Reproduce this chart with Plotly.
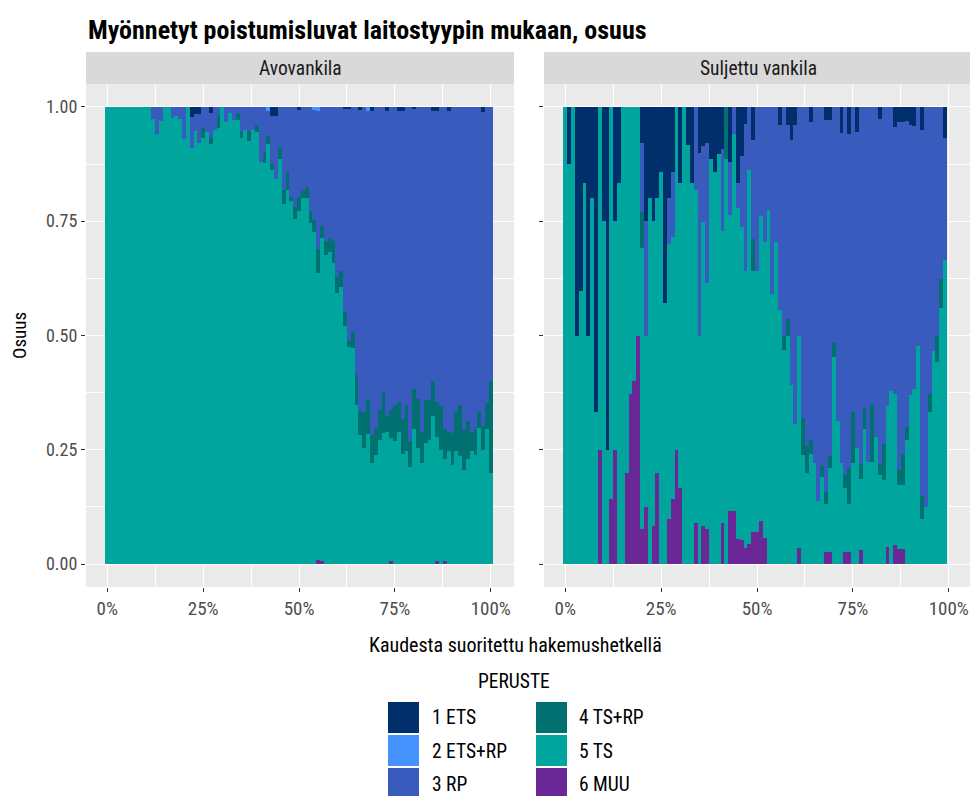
import plotly.graph_objects as go
from plotly.subplots import make_subplots

# kaudesta suoritettu (%), one bar per percent
x_avo = list(range(101))
x_sulj = list(range(100))

# --- Avovankila: shares per category ---
avo_ets = [0, 0, 0, 0, 0, 0, 0, 0, 0, 0,
           0, 0, 0, 0, 0, 0, 0, 0, 0, 0,
           0, 0, .022, .015, .015, 0, 0, .013, 0, 0,
           0, 0, 0, 0, 0, 0, 0, 0, 0, 0,
           0, 0, 0, .02, .02, 0, 0, 0, 0, 0,
           .007, 0, 0, 0, 0, 0, 0, 0, 0, 0,
           0, 0, .005, .005, 0, 0, .007, 0, 0, .01,
           0, 0, 0, .008, 0, 0, .01, .01, 0, 0,
           .005, 0, 0, 0, 0, .01, .01, 0, 0, .008,
           0, 0, 0, 0, 0, 0, 0, 0, .012, 0,
           0]
avo_etsrp = [0, 0, 0, 0, 0, 0, 0, 0, 0, 0,
             0, 0, 0, 0, 0, 0, 0, 0, 0, 0,
             0, 0, 0, 0, 0, 0, 0, 0, 0, 0,
             0, 0, 0, 0, 0, 0, 0, 0, 0, 0,
             0, 0, .009, 0, 0, 0, 0, 0, 0, 0,
             0, 0, 0, 0, .007, .01, 0, 0, 0, 0,
             0, 0, 0, 0, 0, 0, 0, 0, .01, 0,
             0, 0, 0, 0, 0, 0, 0, 0, 0, 0,
             0, 0, 0, 0, 0, 0, 0, 0, 0, 0,
             0, 0, 0, 0, 0, 0, 0, 0, 0, 0,
             0]
avo_rp = [0, 0, 0, 0, 0, 0, 0, 0, 0, 0,
          0, 0, .026, .06, .03, 0, 0, .024, .02, .027,
          .07, 0, .067, .037, .063, .046, .055, .054, .05, .017,
          0, .032, .013, .028, .013, .056, .05, .053, .05, .04,
          .12, .10, .054, .106, .137, .089, .181, .141, .198, .218,
          .19, .183, .175, .227, .24, .30, .26, .293, .286, .293,
          .373, .36, .443, .508, .493, .587, .659, .668, .628, .708,
          .703, .662, .624, .667, .664, .653, .636, .673, .653, .731,
          .613, .638, .712, .642, .642, .59, .636, .655, .705, .704,
          .714, .668, .653, .707, .688, .712, .705, .668, .685, .648,
          .60]
avo_tsrp = [0, 0, 0, 0, 0, 0, 0, 0, 0, 0,
            0, 0, 0, 0, 0, 0, 0, 0, 0, 0,
            0, 0, 0, 0, 0, .021, 0, .015, 0, .03,
            0, 0, 0, 0, .015, .013, 0, .021, 0, .015,
            0, .022, .019, .011, 0, .024, .032, .04, .007, .028,
            .03, .016, .024, .028, .026, .054, .026, .03, .032, .049,
            .035, .035, .032, .013, .035, .066, .052, .079, .078, .061,
            .059, .067, .09, .035, .061, .078, .066, .077, .10, .057,
            .087, .107, .067, .092, .087, .077, .075, .096, .066, .041,
            .07, .085, .111, .088, .083, .041, .057, .035, .054, .057,
            .201]
avo_ts = [1, 1, 1, 1, 1, 1, 1, 1, 1, 1,
          1, 1, .974, .94, .97, 1, 1, .976, .98, .973,
          .93, 1, .911, .948, .922, .933, .945, .918, .95, .953,
          1, .968, .987, .972, .972, .931, .95, .926, .95, .945,
          .88, .878, .918, .863, .843, .887, .787, .819, .795, .754,
          .773, .801, .801, .745, .727, .627, .707, .677, .682, .658,
          .592, .605, .52, .474, .472, .347, .282, .253, .284, .221,
          .238, .271, .286, .29, .269, .269, .288, .24, .247, .212,
          .295, .255, .221, .266, .271, .323, .273, .249, .223, .247,
          .216, .247, .236, .205, .229, .247, .238, .297, .249, .295,
          .199]
avo_muu = [0, 0, 0, 0, 0, 0, 0, 0, 0, 0,
           0, 0, 0, 0, 0, 0, 0, 0, 0, 0,
           0, 0, 0, 0, 0, 0, 0, 0, 0, 0,
           0, 0, 0, 0, 0, 0, 0, 0, 0, 0,
           0, 0, 0, 0, 0, 0, 0, 0, 0, 0,
           0, 0, 0, 0, 0, .009, .007, 0, 0, 0,
           0, 0, 0, 0, 0, 0, 0, 0, 0, 0,
           0, 0, 0, 0, .006, 0, 0, 0, 0, 0,
           0, 0, 0, 0, 0, 0, .006, 0, .006, 0,
           0, 0, 0, 0, 0, 0, 0, 0, 0, 0,
           0]

# --- Suljettu vankila ---
sulj_ets = [0, .125, 0, .502, .402, .167, .502, .20, .667, 0,
            .25, .751, 0, .25, .167, 0, 0, 0, 0, 0,
            .078, .25, .20, .25, .20, .143, .429, .20, .143, 0,
            .167, 0, .084, .167, 0, .10, .085, .078, .114, .143,
            .103, .092, 0, .12, 0, .167, .107, .037, 0, .072,
            0, 0, 0, 0, 0, 0, .039, 0, .039, .072,
            .039, 0, 0, 0, .032, 0, 0, 0, .028, .028,
            0, 0, .057, 0, .059, 0, .055, 0, 0, 0,
            0, 0, .026, 0, 0, 0, .044, .033, .033, .03,
            .039, .041, 0, .05, 0, 0, 0, 0, 0, .068]
sulj_etsrp = [0] * 100
sulj_rp = [0, 0, 0, 0, 0, 0, 0, 0, 0, 0,
           0, 0, 0, 0, 0, 0, 0, 0, 0, 0,
           .153, .252, 0, 0, 0, 0, 0, .10, .142, 0,
           0, 0, 0, 0, .182, .40, .166, .308, 0, 0,
           0, .18, 0, .116, .06, .055, .156, .321, .138, .216,
           .358, .238, .295, .225, .41, .295, .406, .502, .424, .537,
           .655, .502, .681, .742, .697, .779, .862, .786, .815, .736,
           .517, .686, .722, .806, .731, .668, .69, .782, .659, .777,
           .651, .723, .756, .738, .655, .622, .583, .762, .727, .669,
           .592, .577, .524, .802, .876, .627, .533, .502, .376, .266]
sulj_tsrp = [0, 0, 0, 0, 0, 0, 0, 0, 0, 0,
             0, 0, 0, 0, 0, 0, 0, 0, 0, 0,
             .078, 0, 0, 0, 0, 0, 0, 0, 0, 0,
             0, 0, 0, 0, 0, 0, 0, 0, 0, 0,
             0, 0, .114, 0, 0, 0, 0, 0, 0, .07,
             0, 0, 0, 0, 0, 0, 0, .029, .039, 0,
             0, 0, .081, .059, .031, 0, 0, .024, .026, .026,
             .031, 0, 0, .028, .079, .111, 0, .032, .046, 0,
             .126, 0, .024, .079, 0, 0, 0, .033, .068, .03,
             0, 0, 0, .05, 0, .041, 0, .055, .063, 0]
sulj_ts = [1, .875, 1, .498, .598, .833, .498, .80, .333, .751,
           .75, .249, .858, .50, .833, 1, .801, .627, .60, .502,
           .615, .374, .80, .667, .601, .857, .571, .602, .573, .751,
           .667, 1, .916, .833, .728, .50, .666, .538, .886, .857,
           .897, .638, .886, .648, .824, .723, .685, .607, .818, .572,
           .572, .668, .648, .775, .59, .705, .555, .469, .498, .391,
           .306, .463, .238, .199, .24, .221, .138, .19, .105, .184,
           .452, .314, .221, .14, .105, .221, .255, .155, .295, .223,
           .223, .277, .194, .183, .308, .378, .332, .139, .139, .271,
           .369, .382, .476, .098, .124, .332, .467, .443, .561, .666]
sulj_muu = [0, 0, 0, 0, 0, 0, 0, 0, 0, .249,
            0, 0, .142, .25, 0, 0, .199, .373, .40, .498,
            .076, .124, 0, .083, .199, 0, 0, .098, .142, .249,
            .166, 0, 0, 0, .09, 0, .083, .076, 0, 0,
            0, .09, 0, .116, .116, .055, .052, .035, .044, .07,
            .07, .094, .057, 0, 0, 0, 0, 0, 0, 0,
            0, .035, 0, 0, 0, 0, 0, 0, .026, .026,
            0, 0, 0, .026, .026, 0, 0, .031, 0, 0,
            0, 0, 0, 0, .037, 0, .041, .033, .033, 0,
            0, 0, 0, 0, 0, 0, 0, 0, 0, 0]

categories = ["1 ETS", "2 ETS+RP", "3 RP", "4 TS+RP", "5 TS", "6 MUU"]
colors = ["#002F6C", "#4592FF", "#3A5BBE", "#007070", "#00A69E", "#6A2896"]

FONT = "Liberation Sans Narrow, Roboto Condensed, Liberation Sans, sans-serif"

fig = make_subplots(rows=1, cols=2, shared_yaxes=True, horizontal_spacing=0.034)

avo = [avo_ets, avo_etsrp, avo_rp, avo_tsrp, avo_ts, avo_muu]
sulj = [sulj_ets, sulj_etsrp, sulj_rp, sulj_tsrp, sulj_ts, sulj_muu]

# plotly stacks the first trace at the bottom -> add MUU first
for i in reversed(range(6)):
    fig.add_trace(go.Bar(x=x_avo, y=avo[i], name=categories[i], width=1,
                         marker=dict(color=colors[i], line=dict(width=0)),
                         showlegend=False), row=1, col=1)
    fig.add_trace(go.Bar(x=x_sulj, y=sulj[i], name=categories[i], width=1,
                         marker=dict(color=colors[i], line=dict(width=0)),
                         showlegend=False), row=1, col=2)

# page body has an 8px margin, so the figure sits at (8, 8)
OFF = 8
W, H = 978 - OFF, 796 - OFF
L, R, T, B = 86 - OFF, 6, 84 - OFF, 209
pw, ph = W - L - R, H - T - B


def px(xp):
    # window pixel -> paper x
    return (xp - OFF - L) / pw


def py(yp):
    # window pixel -> paper y
    return (H - B - (yp - OFF)) / ph


fig.update_layout(
    width=W, height=H,
    margin=dict(l=L, r=R, t=T, b=B),
    paper_bgcolor="white", plot_bgcolor="#EBEBEB",
    barmode="stack", barnorm="fraction", bargap=0,
    font=dict(family=FONT, size=18, color="#1A1A1A"),
)

xcommon = dict(range=[-5.55, 106.05], tickvals=[0, 25, 50, 75, 100],
               ticktext=["0%", "25%", "50%", "75%", "100%"],
               showgrid=True, gridcolor="white", gridwidth=1.1, zeroline=False,
               ticks="outside", ticklen=4, tickwidth=1, tickcolor="#333333",
               tickfont=dict(size=19, color="#4D4D4D"),
               minor=dict(tick0=12.5, dtick=25, showgrid=True,
                          gridcolor="white", gridwidth=0.5))
fig.update_xaxes(**xcommon)
fig.update_xaxes(domain=[0, px(514)], row=1, col=1)
fig.update_xaxes(domain=[px(544), 1], row=1, col=2)

fig.update_yaxes(range=[-0.05, 1.05], tickvals=[0, .25, .5, .75, 1],
                 ticktext=["0.00", "0.25", "0.50", "0.75", "1.00"],
                 showgrid=True, gridcolor="white", gridwidth=1.1, zeroline=False,
                 ticks="outside", ticklen=4, tickwidth=1, tickcolor="#333333",
                 tickfont=dict(size=18, color="#4D4D4D"),
                 minor=dict(tick0=0.125, dtick=0.25, showgrid=True,
                            gridcolor="white", gridwidth=0.5))

shapes = []
annotations = []

# facet strips
for (x0, x1, label) in [(86, 514, "Avovankila"), (544, 972, "Suljettu vankila")]:
    shapes.append(dict(type="rect", xref="paper", yref="paper",
                       x0=px(x0), x1=px(x1), y0=1, y1=py(52),
                       fillcolor="#D9D9D9", line=dict(width=0), layer="below"))
    annotations.append(dict(text=label, xref="paper", yref="paper",
                            x=(px(x0) + px(x1)) / 2, y=py(68), showarrow=False,
                            font=dict(size=19.5, color="#1A1A1A"),
                            xanchor="center", yanchor="middle"))

# title and axis titles
annotations.append(dict(text="<b>Myönnetyt poistumisluvat laitostyypin mukaan, osuus</b>",
                        xref="paper", yref="paper", x=px(86), y=py(30),
                        xanchor="left", yanchor="middle", showarrow=False,
                        font=dict(size=26, color="black")))
annotations.append(dict(text="Osuus", xref="paper", yref="paper",
                        x=px(19), y=py(336), textangle=-90, showarrow=False,
                        xanchor="center", yanchor="middle",
                        font=dict(size=19, color="black")))
annotations.append(dict(text="Kaudesta suoritettu hakemushetkellä", xref="paper",
                        yref="paper", x=px(515), y=py(645), showarrow=False,
                        xanchor="center", yanchor="middle",
                        font=dict(size=20, color="black")))

# legend (two columns, like ggplot)
annotations.append(dict(text="PERUSTE", xref="paper", yref="paper",
                        x=px(514), y=py(681), showarrow=False,
                        xanchor="center", yanchor="middle",
                        font=dict(size=19.5, color="black")))
key_x = [388, 536]
label_x = [430, 577]
row_y = [702, 735, 768]
for k, cat in enumerate(categories):
    c, r = divmod(k, 3)
    shapes.append(dict(type="rect", xref="paper", yref="paper",
                       x0=px(key_x[c]), x1=px(key_x[c] + 31),
                       y0=py(row_y[r] + 31), y1=py(row_y[r]),
                       fillcolor=colors[k], line=dict(width=0)))
    annotations.append(dict(text=cat, xref="paper", yref="paper",
                            x=px(label_x[c]), y=py(row_y[r] + 16),
                            showarrow=False, xanchor="left", yanchor="middle",
                            font=dict(size=19.5, color="black")))

fig.update_layout(shapes=shapes, annotations=annotations)

fig.write_html("out.html")
